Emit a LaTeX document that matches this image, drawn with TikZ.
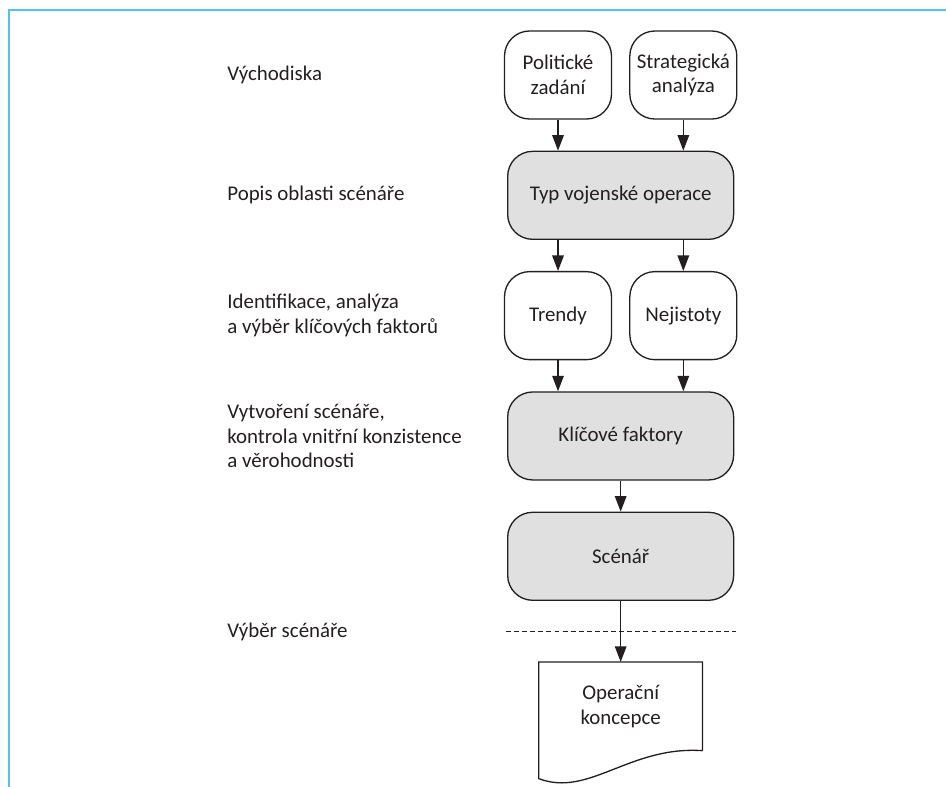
\documentclass[tikz,border=0pt]{standalone}
\usepackage{fontspec}
\setmainfont{Carlito}
\usetikzlibrary{positioning,arrows.meta,calc}
\definecolor{ink}{HTML}{231F20}
\definecolor{boxgray}{HTML}{E0E0E0}
\definecolor{framecol}{RGB}{80,195,240}
\tikzset{
  >={Triangle[length=3.1mm,width=2.3mm]},
  every node/.style={font=\fontsize{11.9}{14}\selectfont, text=ink},
}

\begin{document}
\begin{tikzpicture}[
  node distance=0.62cm,
  soft/.style={draw=ink, line width=0.75pt, rounded corners=0.5cm,
    minimum width=2.14cm, minimum height=1.76cm, align=center, inner sep=1pt},
  hard/.style={soft, fill=boxgray, minimum width=4.52cm},
  stage/.style={anchor=west, align=left, inner sep=0pt},
  flow/.style={->, draw=ink, line width=0.75pt},
  sepline/.style={draw=ink, line width=0.6pt, dash pattern=on 2.8pt off 1.8pt},
]
  \useasboundingbox (0,0) rectangle (18.92,-15.72);
  % frame
  \draw[framecol, line width=1.1pt] (0.18,-15.8) -- (0.18,-0.2) -- (19,-0.2);

  % flow column
  \node[soft] (pol) at (11.16,-1.5) {Politické\\zadání};
  \node[soft, right=0.34cm of pol] (str) {Strategická\\analýza};
  \node[hard, below=0.62cm of $(pol.south)!0.5!(str.south)$] (typ) {Typ vojenské operace};
  \node[soft, anchor=north] (tre) at ([yshift=-0.62cm]typ.south -| pol) {Trendy};
  \node[soft, anchor=north] (nej) at ([yshift=-0.62cm]typ.south -| str) {Nejistoty};
  \node[hard, below=of typ |- tre.south] (kli) {Klíčové faktory};
  \node[hard, below=of kli] (sce) {Scénář};
  \node[minimum width=3.26cm, minimum height=1.76cm, align=center, inner sep=0pt,
        below=1.22cm of sce] (doc) {Operační\\koncepce};
  \draw[draw=ink, line width=0.75pt] (doc.south east) -- (doc.north east) -- (doc.north west)
    -- ([yshift=-0.56cm]doc.south west)
    .. controls +(1.0,-0.38) and +(-1.46,0.1) .. (doc.south east);

  \draw[flow] (pol) -- (pol |- typ.north);
  \draw[flow] (str) -- (str |- typ.north);
  \draw[flow] (pol |- typ.south) -- (tre);
  \draw[flow] (str |- typ.south) -- (nej);
  \draw[flow] (tre) -- (tre |- kli.north);
  \draw[flow] (nej) -- (nej |- kli.north);
  \draw[flow] (kli) -- (sce);
  \draw[flow] (sce) -- (doc);
  \draw[sepline] ([yshift=-0.62cm,xshift=-0.02cm]sce.south west)
    -- ([yshift=-0.62cm,xshift=0.04cm]sce.south east);

  % stage labels
  \coordinate (lx) at (4.54,0);
  \node[stage] (l1) at (lx |- pol) {Východiska};
  \node[stage] (l2) at (lx |- typ) {Popis oblasti scénáře};
  \node[stage] (l3) at (lx |- tre) {Identifikace, analýza\\a výběr klíčových faktorů};
  \node[stage] (l4) at (lx |- kli) {Vytvoření scénáře,\\kontrola vnitřní konzistence\\a věrohodnosti};
  \node[stage] (l5) at ([yshift=-0.62cm]lx |- sce.south) {Výběr scénáře};
\end{tikzpicture}
\end{document}
